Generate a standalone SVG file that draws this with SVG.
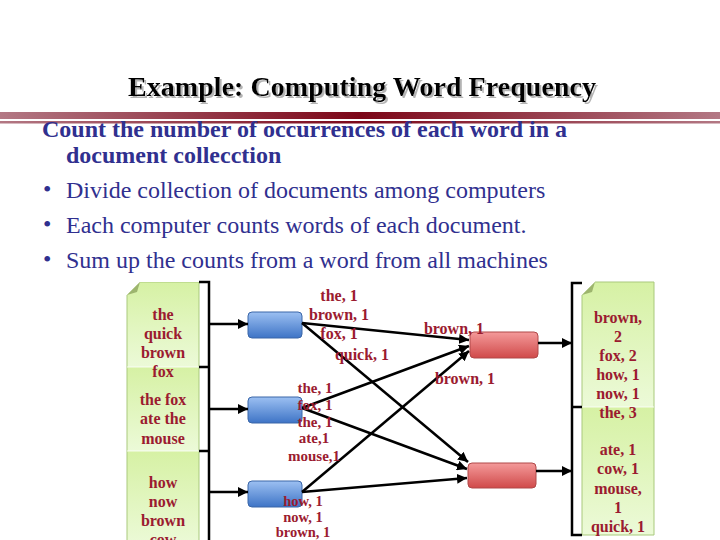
<svg xmlns="http://www.w3.org/2000/svg" width="720" height="540" viewBox="0 0 720 540">
<defs>
<style>
.title{font-family:"Liberation Serif",serif;font-weight:bold;font-size:28px}
.b{font-family:"Liberation Serif",serif;font-size:24px;fill:#30308f}
.bb{font-weight:bold}
.doc{font-family:"Liberation Serif",serif;font-weight:bold;font-size:16px;fill:#9b1b30;text-anchor:middle}
.lbl{font-family:"Liberation Serif",serif;font-weight:bold;fill:#9b1b30;text-anchor:middle}
.ln{stroke:#000;stroke-width:2.5;fill:none}
.arr{stroke:#000;stroke-width:2.5;fill:none;marker-end:url(#ah)}
.blue{fill:url(#gBlue);stroke:#3a66a8;stroke-width:1}
.red{fill:url(#gRed);stroke:#b04848;stroke-width:1}
.seg{fill:url(#gGreen)}
.docb{fill:none;stroke:#a9c97c;stroke-width:1}
.fold{fill:#9db56e}
</style>
<filter id="shadow" x="-5%" y="-20%" width="110%" height="140%">
<feFlood flood-color="#b4b4b4" result="c"/>
<feComposite in="c" in2="SourceAlpha" operator="in" result="s"/>
<feOffset in="s" dx="2" dy="2" result="o"/>
<feMerge><feMergeNode in="o"/><feMergeNode in="SourceGraphic"/></feMerge>
</filter>
<marker id="ah" markerUnits="userSpaceOnUse" markerWidth="10" markerHeight="10" refX="10" refY="5" orient="auto">
<path d="M0,0 L10,5 L0,10 z" fill="#000"/>
</marker>
<linearGradient id="gRule" x1="0" y1="0" x2="1" y2="0">
<stop offset="0" stop-color="#b37884"/>
<stop offset="0.5" stop-color="#7c0618"/>
<stop offset="1" stop-color="#b37884"/>
</linearGradient>
<linearGradient id="gBlue" x1="0" y1="0" x2="0" y2="1">
<stop offset="0" stop-color="#9cc0f2"/>
<stop offset="1" stop-color="#3e74c6"/>
</linearGradient>
<linearGradient id="gRed" x1="0" y1="0" x2="0" y2="1">
<stop offset="0" stop-color="#f49a9a"/>
<stop offset="1" stop-color="#d04a4a"/>
</linearGradient>
<linearGradient id="gGreen" x1="0" y1="0" x2="0" y2="1">
<stop offset="0" stop-color="#d6f1a4"/>
<stop offset="1" stop-color="#ecfad8"/>
</linearGradient>
</defs>
<rect width="720" height="540" fill="#fff"/>

<g id="title">
<text class="title" x="362" y="96" text-anchor="middle" fill="#000" textLength="468" filter="url(#shadow)">Example: Computing Word Frequency</text>
<rect x="0" y="112" width="720" height="7" fill="url(#gRule)"/>
<rect x="0" y="121" width="720" height="2.5" fill="url(#gRule)"/>
</g>

<g id="bullets">
<text class="b bb" x="42" y="137">Count the number of occurrences of each word in a</text>
<text class="b bb" x="66" y="163">document collecction</text>
<text class="b" x="43" y="197">•</text>
<text class="b" x="66" y="198">Divide collection of documents among computers</text>
<text class="b" x="43" y="232">•</text>
<text class="b" x="66" y="233">Each computer counts words of each document.</text>
<text class="b" x="43" y="267">•</text>
<text class="b" x="66" y="268">Sum up the counts from a word from all machines</text>
</g>

<g id="input-docs">
<rect class="seg" x="127" y="282" width="72" height="85"/>
<rect class="seg" x="127" y="367" width="72" height="84"/>
<rect class="seg" x="127" y="451" width="72" height="95"/>
<path class="docb" d="M140 282 H199 V546 H127 V295 Z"/>
<path d="M127 295 L140 282 L200 282 L200 281 L0 281 L0 295 Z" fill="#fff"/>
<path class="fold" d="M127 295 L140 282 L137 292 Z"/>
<line x1="127" y1="367" x2="199" y2="367" stroke="#fff" stroke-width="1" opacity="0.8"/>
<line x1="127" y1="451" x2="199" y2="451" stroke="#fff" stroke-width="1" opacity="0.8"/>
<text class="doc" x="163" y="320">the</text>
<text class="doc" x="163" y="339">quick</text>
<text class="doc" x="163" y="358">brown</text>
<text class="doc" x="163" y="377">fox</text>
<text class="doc" x="163" y="405">the fox</text>
<text class="doc" x="163" y="424">ate the</text>
<text class="doc" x="163" y="444">mouse</text>
<text class="doc" x="163" y="488">how</text>
<text class="doc" x="163" y="507">now</text>
<text class="doc" x="163" y="526">brown</text>
<text class="doc" x="163" y="545">cow</text>
</g>

<g id="map1"><rect class="blue" x="248" y="312" width="54" height="26" rx="4"/></g>
<g id="map2"><rect class="blue" x="248" y="397" width="54" height="26" rx="4"/></g>
<g id="map3"><rect class="blue" x="248" y="481" width="54" height="26" rx="4"/></g>

<g id="reduce1"><rect class="red" x="470" y="332" width="68" height="26" rx="4"/></g>
<g id="reduce2"><rect class="red" x="468" y="463" width="68" height="25" rx="4"/></g>

<g id="output-doc">
<rect class="seg" x="582" y="282" width="72" height="125"/>
<rect class="seg" x="582" y="407" width="72" height="128"/>
<path class="docb" d="M595 282 H654 V535 H582 V295 Z"/>
<path d="M582 295 L595 282 L582 282 Z" fill="#fff"/>
<path class="fold" d="M582 295 L595 282 L592 292 Z"/>
<line x1="582" y1="407" x2="654" y2="407" stroke="#fff" stroke-width="1" opacity="0.8"/>
<text class="doc" x="618" y="323">brown,</text>
<text class="doc" x="618" y="342">2</text>
<text class="doc" x="618" y="361">fox, 2</text>
<text class="doc" x="618" y="380">how, 1</text>
<text class="doc" x="618" y="399">now, 1</text>
<text class="doc" x="618" y="418">the, 3</text>
<text class="doc" x="618" y="455">ate, 1</text>
<text class="doc" x="618" y="474">cow, 1</text>
<text class="doc" x="618" y="494">mouse,</text>
<text class="doc" x="618" y="513">1</text>
<text class="doc" x="618" y="532">quick, 1</text>
</g>

<g id="connectors">
<path class="ln" d="M199 282 H209 V540 M199 367 H209 M199 451 H209"/>
<path class="ln" d="M582 283 H572 V535 H582 M572 407 H582"/>
<path class="arr" d="M209 324 H248"/>
<path class="arr" d="M209 409 H248"/>
<path class="arr" d="M209 492 H248"/>
<path class="arr" d="M302 323 L469 340"/>
<path class="arr" d="M302 323 L468 462"/>
<path class="arr" d="M302 408 L469 346"/>
<path class="arr" d="M302 408 L467 469"/>
<path class="arr" d="M302 492 L469 351"/>
<path class="arr" d="M302 492 L467 478"/>
<path class="arr" d="M538 343 H572"/>
<path class="arr" d="M536 471 H572"/>
</g>

<g id="labels">
<text class="lbl" font-size="16" x="339" y="301">the, 1</text>
<text class="lbl" font-size="16" x="339" y="320">brown, 1</text>
<text class="lbl" font-size="16" x="339" y="339">fox, 1</text>
<text class="lbl" font-size="16" x="362" y="360">quick, 1</text>
<text class="lbl" font-size="15" x="315" y="393">the, 1</text>
<text class="lbl" font-size="15" x="315" y="410">fox, 1</text>
<text class="lbl" font-size="15" x="315" y="427">the, 1</text>
<text class="lbl" font-size="15" x="314" y="443">ate,1</text>
<text class="lbl" font-size="15" x="314" y="461">mouse,1</text>
<text class="lbl" font-size="14.5" x="303" y="506">how, 1</text>
<text class="lbl" font-size="14.5" x="303" y="522">now, 1</text>
<text class="lbl" font-size="14.5" x="303" y="537">brown, 1</text>
<text class="lbl" font-size="16" x="454" y="334">brown, 1</text>
<text class="lbl" font-size="16" x="465" y="384">brown, 1</text>
</g>
</svg>
